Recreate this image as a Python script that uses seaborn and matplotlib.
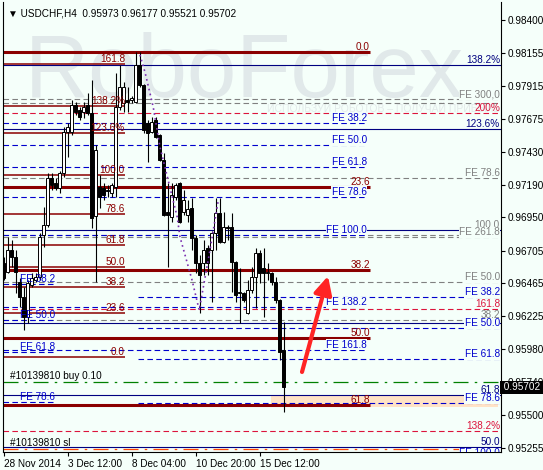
import matplotlib
matplotlib.use("Agg")
import matplotlib.pyplot as plt
import numpy as np
import pandas as pd
import seaborn as sns

BG = "#f5fffa"
FS = 7.2

# H4 candles USDCHF (bar index = position on the time axis)
opens = [0.96614, 0.96548, 0.96710, 0.96658, 0.96474, 0.96364, 0.96217, 0.96452, 0.96489, 0.96511,
         0.96820, 0.96893, 0.97239, 0.97202, 0.97165, 0.97276, 0.97577, 0.97577, 0.97775, 0.97739,
         0.97724, 0.97775, 0.97716, 0.96960, 0.97173, 0.97165, 0.97151, 0.97128, 0.97173, 0.97761,
         0.97790, 0.97812, 0.97812, 0.97797, 0.98069, 0.97922, 0.97643, 0.97577, 0.97665, 0.97555,
         0.97371, 0.96989, 0.96952, 0.97099, 0.97202, 0.96989, 0.96967, 0.97018, 0.96798, 0.96614,
         0.96614, 0.96724, 0.96710, 0.96835, 0.96981, 0.96768, 0.96879, 0.96879, 0.96621, 0.96394,
         0.96394, 0.96247, 0.96416, 0.96511, 0.96687, 0.96577, 0.96541, 0.96541, 0.96474, 0.96342,
         0.95973]
highs = [0.96658, 0.96805, 0.96783, 0.96710, 0.96504, 0.96438, 0.96489, 0.96541, 0.96541, 0.96835,
         0.97026, 0.97276, 0.97276, 0.97239, 0.97290, 0.97614, 0.97643, 0.97812, 0.97797, 0.97761,
         0.97797, 0.97863, 0.97959, 0.97481, 0.97261, 0.97202, 0.97187, 0.97200, 0.98010, 0.98069,
         0.97944, 0.97908, 0.97840, 0.98165, 0.98165, 0.97930, 0.97665, 0.97687, 0.97687, 0.97560,
         0.97422, 0.97202, 0.97202, 0.97202, 0.97210, 0.97151, 0.97077, 0.97092, 0.96820, 0.96673,
         0.96783, 0.96746, 0.96850, 0.97092, 0.97092, 0.96989, 0.96893, 0.96981, 0.96630, 0.96577,
         0.96401, 0.96489, 0.96585, 0.96724, 0.96710, 0.96724, 0.96614, 0.96548, 0.96511, 0.96350,
         0.96177]
lows = [0.96489, 0.96541, 0.96585, 0.96394, 0.96291, 0.96122, 0.96173, 0.96438, 0.96474, 0.96489,
        0.96732, 0.96879, 0.97151, 0.97151, 0.97128, 0.97246, 0.97393, 0.97555, 0.97702, 0.97665,
        0.97680, 0.97702, 0.96871, 0.96474, 0.97018, 0.97077, 0.97099, 0.97099, 0.97099, 0.97739,
        0.97724, 0.97724, 0.97790, 0.97790, 0.97908, 0.97570, 0.97356, 0.97570, 0.97530, 0.97365,
        0.96960, 0.96585, 0.96915, 0.97077, 0.96910, 0.96967, 0.96915, 0.96710, 0.96541, 0.96247,
        0.96526, 0.96526, 0.96327, 0.96710, 0.96761, 0.96761, 0.96783, 0.96401, 0.96327, 0.96173,
        0.96327, 0.96240, 0.96394, 0.96283, 0.96467, 0.96217, 0.96489, 0.96452, 0.96320, 0.95901,
        0.95521]
closes = [0.96504, 0.96710, 0.96658, 0.96548, 0.96364, 0.96217, 0.96467, 0.96504, 0.96511, 0.96805,
          0.96893, 0.97239, 0.97187, 0.97165, 0.97276, 0.97577, 0.97614, 0.97775, 0.97724, 0.97687,
          0.97761, 0.97716, 0.96945, 0.97445, 0.97099, 0.97114, 0.97144, 0.97187, 0.97761, 0.97908,
          0.97908, 0.97797, 0.97826, 0.98069, 0.97922, 0.97592, 0.97570, 0.97650, 0.97540, 0.97371,
          0.96967, 0.96967, 0.97114, 0.97187, 0.96915, 0.97077, 0.97011, 0.96798, 0.96614, 0.96526,
          0.96710, 0.96614, 0.96835, 0.96981, 0.96768, 0.96879, 0.96871, 0.96621, 0.96379, 0.96401,
          0.96342, 0.96416, 0.96511, 0.96687, 0.96541, 0.96541, 0.96548, 0.96474, 0.96342, 0.95960,
          0.95702]

# price axis / time axis
price_ticks = [0.98400, 0.98155, 0.97915, 0.97675, 0.97430, 0.97190, 0.96950,
               0.96705, 0.96465, 0.96225, 0.95980, 0.95740, 0.95500, 0.95255]
time_tick_bars = [0, 16, 32, 48, 64]
time_tick_labels = ["28 Nov 2014", "3 Dec 12:00", "8 Dec 04:00", "10 Dec 20:00", "15 Dec 12:00"]
last_price = 0.95702

# fibo retracement (long, thick maroon)
fib_main_labels = ["0.0", "23.6", "38.2", "50.0", "61.8"]
fib_main_prices = [0.98165, 0.97173, 0.96562, 0.96063, 0.95570]
# fibo retracement (short, left)
fib_left_labels = ["161.8", "138.2%", "123.6%", "100.0", "78.6", "61.8", "50.0", "38.2", "23.6", "0.0"]
fib_left_prices = [0.98077, 0.97768, 0.97570, 0.97261, 0.96974, 0.96746, 0.96585, 0.96438, 0.96246, 0.95923]
# fibo expansions
fe_mid_labels = ["FE 38.2", "FE 50.0", "FE 61.8", "FE 78.6", "FE 100.0", "FE 138.2", "FE 161.8"]
fe_mid_prices = [0.97643, 0.97481, 0.97320, 0.97099, 0.96820, 0.96290, 0.95975]
fe_left_labels = ["FE 38.2", "FE 50.0", "FE 61.8", "FE 78.6"]
fe_left_prices = [0.96460, 0.96195, 0.95960, 0.95592]
fe_right_labels = ["FE 38.2", "FE 50.0", "FE 61.8", "FE 78.6", "FE 100.0"]
fe_right_prices = [0.96364, 0.96136, 0.95908, 0.95585, 0.95180]
# full-width levels
navy_labels = ["138.2%", "123.6%", "100.0", "", "61.8", "50.0"]
navy_prices = [0.98069, 0.97599, 0.96857, 0.96173, 0.95644, 0.95262]
gray_labels = ["FE 300,0", "", "FE 78.6", "", "FE 261.8", "FE 50.0", "38.2"]
gray_prices = [0.97819, 0.97790, 0.97239, 0.96820, 0.96805, 0.96474, 0.96195]
crimson_labels = ["200%", "161.8", "138.2%"]
crimson_prices = [0.97716, 0.96276, 0.95379]
# orders
buy_price = 0.95739
sl_price = 0.95247
zone_bars = [66.8, 123.6]
zone_prices = [0.95556, 0.95636]
# zigzag / arrow
zig_x = [34.1, 35.4, 37.4, 39.1, 43.4, 44.1, 47.1, 48.9, 51.6, 53.6]
zig_y = [0.98143, 0.98010, 0.97761, 0.97466, 0.96952, 0.96805, 0.96489, 0.96268, 0.96710, 0.97062]
arrow_from = (74.6, 0.95813)
arrow_to = (81.1, 0.96518)

sns.set_theme(style="white")
plt.rcParams["font.family"] = ["Liberation Sans", "DejaVu Sans"]

df = pd.DataFrame({"open": opens, "high": highs, "low": lows, "close": closes})
df["bar"] = np.arange(len(df))
df["up"] = df["close"] >= df["open"]

fig = plt.figure(figsize=(5.43, 4.70), dpi=100)
fig.patch.set_facecolor(BG)
ax = fig.add_axes([3 / 543, 18 / 470, 498 / 543, 450 / 470])
ax.set_facecolor(BG)
XL, XR = -0.15, 124.35
ax.set_xlim(XL, XR)
ax.set_ylim(0.95225, 0.98532)

# watermark
ax.text(25 / 543, 1 - 97 / 470, "RoboForex", transform=fig.transFigure, fontsize=64,
        color="#e1e9ea", va="baseline", ha="left", zorder=0.3)
ax.text(500 / 543, 1 - 112 / 470, "ИСПОЛЬЗУЙ РОБОТОВ – ПОЛУЧАЙ ПРИБЫЛЬ", transform=fig.transFigure,
        fontsize=7.5, color="#e3eaea", va="baseline", ha="right", zorder=0.3)

ax.axhspan(zone_prices[0], zone_prices[1], xmin=(zone_bars[0] - XL) / (XR - XL),
           xmax=(zone_bars[1] - XL) / (XR - XL), color="#ffe3c6", lw=0, zorder=0.5)


def label(x, y, s, color, bg=False):
    kw = dict(ha="right", va="bottom", fontsize=FS, color=color, zorder=6)
    if bg:
        kw["bbox"] = dict(boxstyle="square,pad=0.05", fc=BG, ec="none")
    t = ax.text(x, y, s, **kw)
    t.set_clip_on(True)


DASH = (0, (5, 3))
right_x = 124.1

for p, s in zip(navy_prices, navy_labels):
    ax.hlines(p, XL, XR, color="#000080", lw=0.8, zorder=1.5)
    if s:
        label(right_x, p, s, "#000080" if s != "100.0" else "#808080")
for p, s in zip(gray_prices, gray_labels):
    ax.hlines(p, XL, XR, color="#808080", lw=0.8, linestyles=DASH, zorder=1.5)
    if s:
        label(right_x, p, s, "#808080", bg=s.startswith("FE"))
for p, s in zip(crimson_prices, crimson_labels):
    ax.hlines(p, XL, XR, color="#dc143c", lw=0.8, linestyles=DASH, zorder=1.5)
    label(right_x, p, s, "#dc143c")

for p, s in zip(fib_left_prices, fib_left_labels):
    ax.hlines(p, XL, 30.35, color="#8b0000", lw=1.1, zorder=1.6)
    label(30.35, p, s, "#8b0000")
for p, s in zip(fib_main_prices, fib_main_labels):
    ax.hlines(p, XL, 91.6, color="#8b0000", lw=2.2, zorder=1.7)
    label(91.6, p, s, "#8b0000")

for p, s in zip(fe_mid_prices, fe_mid_labels):
    ax.hlines(p, XL, 90.85, color="#0000cd", lw=0.8, linestyles=DASH, zorder=1.8)
    label(90.85, p, s, "#0000cd", bg=True)
for p, s in zip(fe_left_prices, fe_left_labels):
    ax.hlines(p, XL, 12.85, color="#0000cd", lw=0.8, linestyles=DASH, zorder=1.8)
    label(12.85, p, s, "#0000cd")
for p, s in zip(fe_right_prices, fe_right_labels):
    ax.hlines(p, 33.6, XR, color="#0000cd", lw=0.8, linestyles=DASH, zorder=1.8)
    label(right_x, p, s, "#0000cd", bg=True)

# orders
ax.hlines(buy_price, XL, XR, color="#008000", lw=0.9, linestyles=(0, (12, 5, 2, 5)), zorder=1.8)
ax.text(1.6, buy_price + 0.00025, "#10139810 buy 0.10", fontsize=FS, color="black", zorder=6)
ax.hlines(sl_price, XL, XR, color="#ff4500", lw=0.9, linestyles=(0, (12, 5, 2, 5)), zorder=1.8)
ax.text(1.6, sl_price + 0.00025, "#10139810 sl", fontsize=FS, color="black", zorder=6)

# candles
ax.vlines(df["bar"], df["low"], df["high"], color="black", lw=0.8, zorder=3)
body_lo = df[["open", "close"]].min(axis=1)
body_h = (df["close"] - df["open"]).abs().clip(lower=0.00002)
ax.bar(df["bar"], body_h, bottom=body_lo, width=0.6,
       color=np.where(df["up"], "white", "black"), edgecolor="black", lw=0.7, zorder=3.5)

# zigzag
sns.lineplot(x=zig_x, y=zig_y, ax=ax, sort=False, estimator=None, color="#7a2fb0",
             lw=1.2, linestyle=(0, (1, 2)), zorder=4)

ax.annotate("", xy=arrow_to, xytext=arrow_from, zorder=8,
            arrowprops=dict(arrowstyle="-|>,head_length=0.9,head_width=0.45", color="#ff2424",
                            lw=3, shrinkA=0, shrinkB=0))

# axes
ax.yaxis.tick_right()
ax.set_yticks(price_ticks)
ax.set_yticklabels([f"{t:.5f}" for t in price_ticks])
ax.set_xticks(time_tick_bars)
ax.set_xticklabels(time_tick_labels, ha="left")
ax.tick_params(axis="both", direction="out", length=3, width=0.8, labelsize=FS, pad=2,
               colors="black", left=False, bottom=True, right=True)
for side in ["left", "bottom", "right"]:
    ax.spines[side].set_color("black")
    ax.spines[side].set_linewidth(0.8)
ax.spines["top"].set_visible(False)
ax.grid(False)

ax.text(1.0, last_price, " 0.95702 ", transform=ax.get_yaxis_transform(), fontsize=FS,
        color="white", va="center", ha="left", clip_on=False, zorder=10,
        bbox=dict(boxstyle="square,pad=0.15", fc="black", ec="none"))

ax.text(1.2, 0.98445, "▼ USDCHF,H4  0.95973 0.96177 0.95521 0.95702", fontsize=FS,
        color="black", va="center", zorder=6)

fig.savefig("out.png", dpi=100, facecolor=BG)
